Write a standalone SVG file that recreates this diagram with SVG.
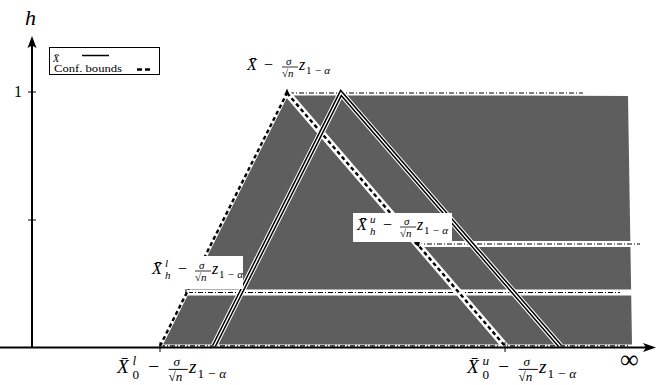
<svg xmlns="http://www.w3.org/2000/svg" width="657" height="385" viewBox="0 0 657 385">
<rect width="657" height="385" fill="#fff"/>
<g id="region">
<polygon points="160,345 287,93 628,96 632,345" fill="#5e5e5e"/>
</g>
<g id="connectors" fill="none">
<g id="levels-bg" stroke="#fff">
<line x1="287" y1="93" x2="630" y2="93" stroke-width="5"/>
<line x1="415" y1="244" x2="634" y2="244" stroke-width="6"/>
<line x1="186" y1="292.5" x2="634" y2="292.5" stroke-width="6"/>
<line x1="160" y1="345.5" x2="634" y2="345.5" stroke-width="2"/>
</g>
<g id="levels" stroke="#000" stroke-width="1.2" stroke-dasharray="5 2 1 2">
<line x1="289" y1="93" x2="583" y2="93"/>
<line x1="417" y1="244" x2="640" y2="244"/>
<line x1="188" y1="292.5" x2="620" y2="292.5"/>
<line x1="160" y1="345.8" x2="630" y2="345.8"/>
</g>
<g id="bounds">
<line x1="287" y1="93" x2="505" y2="346" stroke="#fff" stroke-width="7"/>
<line x1="160" y1="346" x2="287" y2="93" stroke="#fff" stroke-width="4"/>
<g stroke="#000" stroke-width="2.4" stroke-dasharray="4 3">
<line x1="287" y1="93" x2="505" y2="346"/>
<line x1="160" y1="346" x2="287" y2="93"/>
</g>
</g>
<g id="xbar" stroke-linejoin="miter">
<path d="M214,346 L341,93 L560,346" stroke="#fff" stroke-width="6.5"/>
<path d="M214,346 L341,93 L560,346" stroke="#000" stroke-width="4.4"/>
<path d="M214,346 L341,93 L560,346" stroke="#fff" stroke-width="1.4"/>
</g>
<g id="ends" stroke="#000" stroke-width="1">
<polygon points="287,88.5 284.3,95 289.7,95" fill="#000" stroke="none"/>
<line x1="186" y1="289" x2="186" y2="296"/>
<polygon points="414,243.5 420,241 419,247" fill="#000" stroke="none"/>
<line x1="160" y1="342" x2="160" y2="352"/>
<line x1="505" y1="342" x2="505" y2="352"/>
</g>
</g>
<g id="axes">
<line x1="32" y1="348" x2="32" y2="45" stroke="#000" stroke-width="2"/>
<polygon points="32,36 27.5,48 32,45.5 36.5,48" fill="#000"/>
<line x1="0" y1="347.5" x2="646" y2="347.5" stroke="#000" stroke-width="2"/>
<polygon points="656,347.5 643,343 646,347.5 643,352" fill="#000"/>
<line x1="28" y1="92" x2="36" y2="92" stroke="#000" stroke-width="1"/>
<line x1="28" y1="220" x2="36" y2="220" stroke="#000" stroke-width="1"/>
<text x="25" y="25" font-size="22" font-family="Liberation Serif" font-style="italic">h</text>
<text x="14" y="97" font-size="16" font-family="Liberation Serif">1</text>
<text x="620" y="368" font-size="26" font-family="Liberation Serif">∞</text>
</g>
<g id="legend" font-family="Liberation Serif">
<rect x="49.5" y="47.5" width="110" height="27" fill="#fff" stroke="#000" stroke-width="1"/>
<text x="53" y="62" font-size="10" font-style="italic">X̄</text>
<line x1="82" y1="55.5" x2="109" y2="55.5" stroke="#000" stroke-width="1.5"/>
<text x="54" y="71.5" font-size="10.5" textLength="68" lengthAdjust="spacingAndGlyphs">Conf. bounds</text>
<line x1="137" y1="69.5" x2="150" y2="69.5" stroke="#000" stroke-width="2.5" stroke-dasharray="5 3"/>
</g>
<g id="label-top" font-family="Liberation Serif">
<text x="247" y="70" font-size="16" font-style="italic">X̄</text>
<text x="264" y="70" font-size="16">−</text>
<text x="286" y="64.5" font-size="11" font-style="italic">σ</text>
<line x1="282" y1="67" x2="298" y2="67" stroke="#000" stroke-width="0.8"/>
<text x="282" y="77" font-size="11">√<tspan font-style="italic">n</tspan></text>
<text x="299" y="70" font-size="16" font-style="italic">z</text>
<text x="306" y="74" font-size="11" textLength="24" lengthAdjust="spacing">1−<tspan font-style="italic">α</tspan></text>
</g>
<g id="label-hu" font-family="Liberation Serif">
<rect x="353" y="213" width="99" height="29" fill="#fff"/>
<text x="357" y="230" font-size="16" font-style="italic">X̄</text>
<text x="370" y="223" font-size="11" font-style="italic">u</text>
<text x="370" y="235" font-size="11" font-style="italic">h</text>
<text x="383" y="230" font-size="16">−</text>
<text x="404" y="224.5" font-size="11" font-style="italic">σ</text>
<line x1="400" y1="227" x2="416" y2="227" stroke="#000" stroke-width="0.8"/>
<text x="400" y="237" font-size="11">√<tspan font-style="italic">n</tspan></text>
<text x="417" y="230" font-size="16" font-style="italic">z</text>
<text x="424" y="234" font-size="11" textLength="24" lengthAdjust="spacing">1−<tspan font-style="italic">α</tspan></text>
</g>
<g id="label-hl" font-family="Liberation Serif">
<rect x="147" y="256" width="96" height="33" fill="#fff"/>
<text x="152" y="274" font-size="16" font-style="italic">X̄</text>
<text x="165" y="267" font-size="11" font-style="italic">l</text>
<text x="165" y="279" font-size="11" font-style="italic">h</text>
<text x="178" y="274" font-size="16">−</text>
<text x="199" y="268.5" font-size="11" font-style="italic">σ</text>
<line x1="195" y1="271" x2="211" y2="271" stroke="#000" stroke-width="0.8"/>
<text x="195" y="281" font-size="11">√<tspan font-style="italic">n</tspan></text>
<text x="212" y="274" font-size="16" font-style="italic">z</text>
<text x="219" y="278" font-size="11" textLength="24" lengthAdjust="spacing">1−<tspan font-style="italic">α</tspan></text>
</g>
<g id="label-0l" font-family="Liberation Serif" transform="translate(117,373) scale(1.2) translate(-117,-374)">
<text x="117" y="374" font-size="16" font-style="italic">X̄</text>
<text x="130" y="367" font-size="11" font-style="italic">l</text>
<text x="130" y="379" font-size="11">0</text>
<text x="143" y="374" font-size="16">−</text>
<text x="164" y="368.5" font-size="11" font-style="italic">σ</text>
<line x1="160" y1="371" x2="176" y2="371" stroke="#000" stroke-width="0.8"/>
<text x="160" y="381" font-size="11">√<tspan font-style="italic">n</tspan></text>
<text x="177" y="374" font-size="16" font-style="italic">z</text>
<text x="184" y="378" font-size="11" textLength="24" lengthAdjust="spacing">1−<tspan font-style="italic">α</tspan></text>
</g>
<g id="label-0u" font-family="Liberation Serif" transform="translate(467,373) scale(1.2) translate(-467,-374)">
<text x="467" y="374" font-size="16" font-style="italic">X̄</text>
<text x="480" y="367" font-size="11" font-style="italic">u</text>
<text x="480" y="379" font-size="11">0</text>
<text x="493" y="374" font-size="16">−</text>
<text x="514" y="368.5" font-size="11" font-style="italic">σ</text>
<line x1="510" y1="371" x2="526" y2="371" stroke="#000" stroke-width="0.8"/>
<text x="510" y="381" font-size="11">√<tspan font-style="italic">n</tspan></text>
<text x="527" y="374" font-size="16" font-style="italic">z</text>
<text x="534" y="378" font-size="11" textLength="24" lengthAdjust="spacing">1−<tspan font-style="italic">α</tspan></text>
</g>
</svg>
